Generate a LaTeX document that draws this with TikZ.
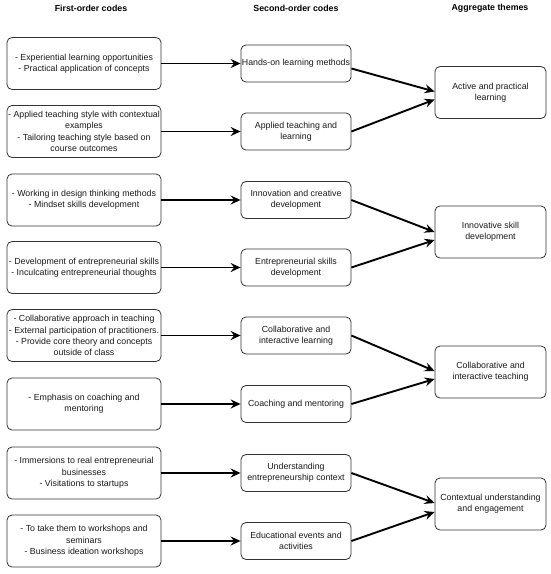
\documentclass[tikz,border=0pt]{standalone}
\usepackage{fontspec}
\setmainfont{Liberation Sans}
\usetikzlibrary{arrows.meta}
\begin{document}
\begin{tikzpicture}[x=1pt,y=-1pt,
 box/.style={draw=black!80, line width=0.8pt, rounded corners=5pt, align=center, inner sep=1pt, text=black!90, font=\fontsize{8.8}{11.3}\selectfont},
 lbox/.style={box, minimum width=154pt, minimum height=52pt},
 mbox/.style={box, minimum width=110pt, minimum height=37pt},
 rbox/.style={box, minimum width=111pt, minimum height=52pt},
 hdr/.style={font=\bfseries\fontsize{8.8}{11}\selectfont},
 arr/.style={-{Stealth[length=10pt,width=9pt,inset=3.5pt]}, line width=1.9pt}]
\useasboundingbox (0,0) rectangle (550,574);
\node[hdr] (h1) at (91,8) {First-order codes};
\node[hdr] (h2) at (296,8) {Second-order codes};
\node[hdr] (h3) at (490,8) {Aggregate themes};

\node[lbox] (l1) at (84,63.5) {- Experiential learning opportunities\\- Practical application of concepts};
\node[lbox] (l2) at (84,131.5) {- Applied teaching style with contextual\\examples\\- Tailoring teaching style based on\\course outcomes};
\node[lbox] (l3) at (84,200) {- Working in design thinking methods\\- Mindset skills development};
\node[lbox] (l4) at (84,267.5) {- Development of entrepreneurial skills\\- Inculcating entrepreneurial thoughts};
\node[lbox] (l5) at (84,335.5) {- Collaborative approach in teaching\\- External participation of practitioners.\\- Provide core theory and concepts\\outside of class};
\node[lbox] (l6) at (84,404) {- Emphasis on coaching and\\mentoring};
\node[lbox] (l7) at (84,473) {- Immersions to real entrepreneurial\\businesses\\- Visitations to startups};
\node[lbox] (l8) at (84,541) {- To take them to workshops and\\seminars\\- Business ideation workshops};

\node[mbox] (m1) at (296,63.5) {Hands-on learning methods};
\node[mbox] (m2) at (296,131.5) {Applied teaching and\\learning};
\node[mbox] (m3) at (296,200) {Innovation and creative\\development};
\node[mbox] (m4) at (296,267.5) {Entrepreneurial skills\\development};
\node[mbox] (m5) at (296,335.5) {Collaborative and\\interactive learning};
\node[mbox] (m6) at (296,404) {Coaching and mentoring};
\node[mbox] (m7) at (296,473) {Understanding\\entrepreneurship context};
\node[mbox] (m8) at (296,541) {Educational events and\\activities};

\node[rbox] (r1) at (490.5,92.5) {Active and practical\\learning};
\node[rbox] (r2) at (490.5,232) {Innovative skill\\development};
\node[rbox] (r3) at (490.5,372) {Collaborative and\\interactive teaching};
\node[rbox] (r4) at (490.5,504) {Contextual understanding\\and engagement};

\foreach \i in {1,...,8} {\draw[arr] (l\i.east) -- (m\i.west);}

\draw[arr] ([yshift=-5pt]m1.east) -- ([yshift=1pt]r1.west);
\draw[arr] (m2.east) -- ([yshift=-7pt]r1.west);
\draw[arr] (m3.east) -- ([yshift=0pt]r2.west);
\draw[arr] (m4.east) -- ([yshift=-8pt]r2.west);
\draw[arr] (m5.east) -- ([yshift=1pt]r3.west);
\draw[arr] (m6.east) -- ([yshift=-7pt]r3.west);
\draw[arr] (m7.east) -- ([yshift=1pt]r4.west);
\draw[arr] (m8.east) -- ([yshift=-8pt]r4.west);
\end{tikzpicture}
\end{document}
